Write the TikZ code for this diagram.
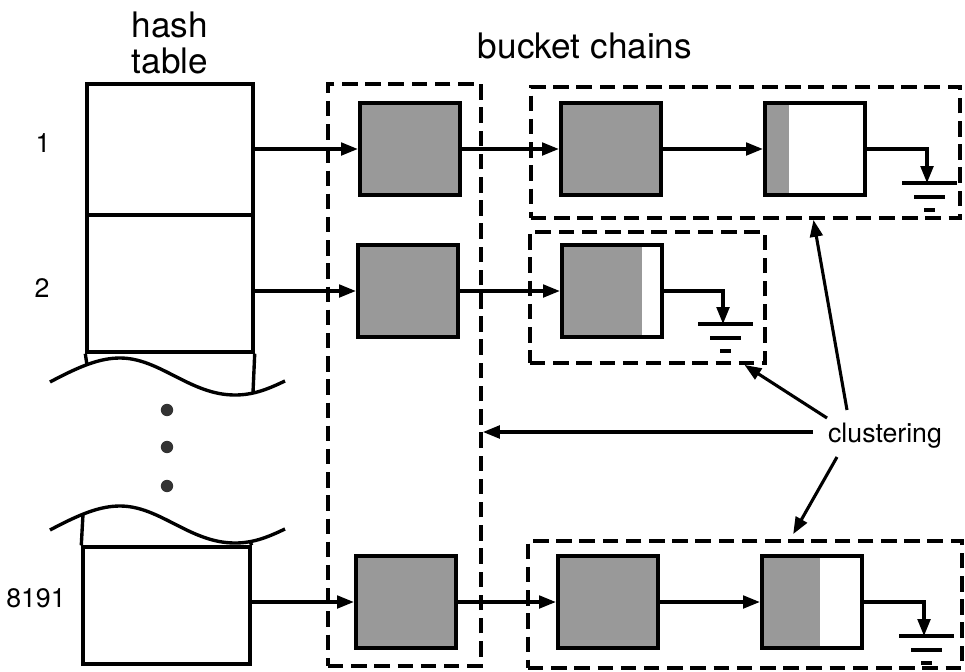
\documentclass[tikz,border=0pt]{standalone}
\usepackage{fontspec}
\setmainfont{TeX Gyre Heros}
\usetikzlibrary{arrows.meta,fit,calc}
\definecolor{shadegray}{gray}{0.6}
\definecolor{dotgray}{gray}{0.2}
\tikzset{
  tline/.style={line width=2.4pt},
  cellbox/.style={draw, line width=2.4pt, inner sep=0pt},
  rec/.style={draw, line width=3pt, fill=shadegray, inner sep=0pt, minimum width=2.5cm, minimum height=2.3cm},
  partrec/.style={draw, line width=3pt, fill=white, inner sep=0pt, minimum width=2.5cm, minimum height=2.3cm,
    path picture={\fill[shadegray] (path picture bounding box.south west) rectangle ([xshift=#1]path picture bounding box.north west);}},
  cluster/.style={draw, dash pattern=on 11pt off 5.5pt, line width=2.7pt, inner sep=0pt},
  arr/.style={line width=2.2pt, -{Triangle[length=12pt,width=9pt]}},
  gbar/.style={line width=3.2pt},
  earth/.pic={
    \draw[gbar] (-25,0) -- (30,0);
    \draw[gbar] (-13,14) -- (18,14);
    \draw[gbar] (-3,27) -- (8,27);
  },
  bigtxt/.style={font=\fontsize{25}{25}\selectfont, align=center, inner sep=0pt},
  numtxt/.style={font=\fontsize{19}{21}\selectfont, inner sep=0pt},
  clutxt/.style={font=\fontsize{19}{21}\selectfont, inner sep=0pt},
}
\begin{document}
\begin{tikzpicture}[x=0.025cm,y=-0.025cm]
\useasboundingbox (0,0) rectangle (965,671);
\fill[white] (0,0) rectangle (965,671);

% titles
\node[bigtxt] (ht) at (170,43) {hash\\table};
\node[bigtxt, anchor=base] (bc) at (585,58) {bucket chains};

% row labels
\node[numtxt] (n1) at (43,143) {1};
\node[numtxt] (n2) at (42,288) {2};
\node[numtxt] (n3) at (36,598) {8191};

% hash table
\node[cellbox, minimum width=4.15cm, minimum height=3.275cm] (h1) at (170,149.5) {};
\node[cellbox, minimum width=4.15cm, minimum height=3.425cm] (h2) at (170,283.5) {};
\node[cellbox, minimum width=4.175cm, minimum height=2.925cm] (h3) at (166.5,605.5) {};
\draw[tline] (h2.south west) -- (87,365);
\draw[tline] (h2.south east) -- (253,392.5);
\draw[tline] (50,382) .. controls (80,366) and (100,358) .. (120,358)
  .. controls (160,358) and (190,395) .. (235,395)
  .. controls (255,395) and (270,388) .. (285,381);
\draw[tline] (h3.north west) -- (83,514);
\draw[tline] (h3.north east) -- (250,541.5);
\draw[tline] (50,530) .. controls (80,514) and (100,506) .. (120,506)
  .. controls (160,506) and (190,543) .. (235,543)
  .. controls (255,543) and (270,536) .. (285,529);
\fill[dotgray] (167,410) circle[radius=4.4pt];
\fill[dotgray] (167,447) circle[radius=4.4pt];
\fill[dotgray] (167,486) circle[radius=4.4pt];

% clusters
\node[cluster, fit={(328,84) (481,666)}] (c0) {};
\node[cluster, fit={(531,87) (960,218)}] (c1) {};
\node[cluster, fit={(530,232) (765,363)}] (c2) {};
\node[cluster, fit={(528,541) (962,668)}] (c3) {};

% bucket boxes
\node[rec] (b11) at (410,149) {};
\node[rec] (b12) at (611,149) {};
\node[partrec=0.6cm] (b13) at (815,149) {};
\node[rec] (b21) at (408,291) {};
\node[partrec=2.0cm] (b22) at (612,291) {};
\node[rec] (b31) at (406,602) {};
\node[rec] (b32) at (608,602) {};
\node[partrec=1.45cm] (b33) at (812,602) {};

% grounds
\coordinate (g1) at (927,183);
\coordinate (g2) at (723,324);
\coordinate (g3) at (924,636);
\pic at (g1) {earth};
\pic at (g2) {earth};
\pic at (g3) {earth};

% chain connectors
\draw[arr] (h1.east |- b11.west) -- (b11.west);
\draw[arr] (b11.east) -- (b12.west);
\draw[arr] (b12.east) -- (b13.west);
\draw[arr] (b13.east) -| (g1);
\draw[arr] (h2.east |- b21.west) -- (b21.west);
\draw[arr] (b21.east) -- (b22.west);
\draw[arr] (b22.east) -| (g2);
\draw[arr] (h3.east |- b31.west) -- (b31.west);
\draw[arr] (b31.east) -- (b32.west);
\draw[arr] (b32.east) -- (b33.west);
\draw[arr] (b33.east) -| (g3);

% clustering
\node[clutxt, anchor=base] (clu) at (885,442) {clustering};
\coordinate (k0) at ($(clu.base)+(-72,-10)$);
\draw[arr] ($(clu.base)+(-38,-32)$) -- ($(c1.south west)!0.657!(c1.south east)$);
\draw[arr] ($(clu.base)+(-58,-24)$) -- ($(c2.south west)!0.906!(c2.south east)$);
\draw[arr] (k0) -- (k0 -| c0.east);
\draw[arr] ($(clu.base)+(-48,15)$) -- ($(c3.north west)!0.61!(c3.north east)+(0,-5)$);
\end{tikzpicture}
\end{document}
